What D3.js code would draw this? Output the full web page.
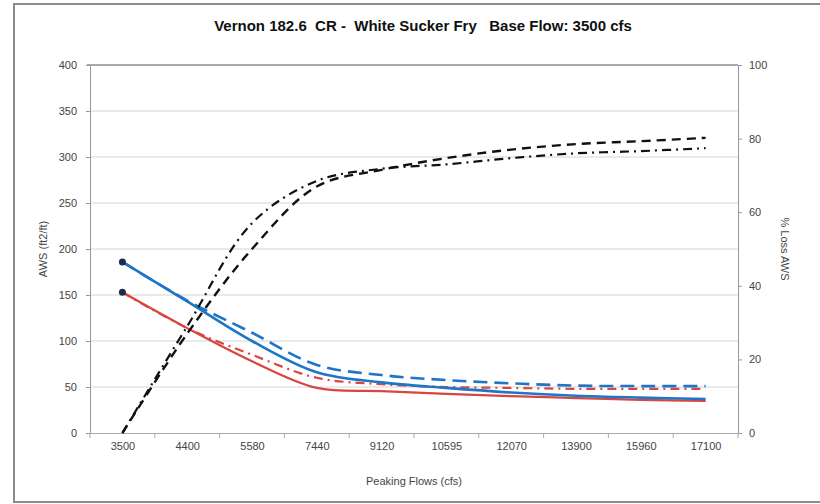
<!DOCTYPE html>
<html><head><meta charset="utf-8">
<script src="https://cdn.jsdelivr.net/npm/d3@7"></script>
<style>body{margin:0;background:#fff}svg{display:block}text{font-family:"Liberation Sans",Arial,sans-serif}</style>
</head><body><svg id="c" width="820" height="504"></svg>
<script>
const categories = ["3500","4400","5580","7440","9120","10595","12070","13900","15960","17100"];
const awsBlueSolid  = [186,143,100,66,55,49,44,40.5,38.5,37];
const awsBlueDashed = [186,144,109,74,63,57.5,54,51.5,51,51];
const awsRedSolid   = [153,114,78,49,45.5,42.5,40,38,36,35];
const awsRedDashDot = [153,114,85,60,53,50,49,48,48,48];
const lossDashed    = [0,27,50,67,71.5,74.7,77,78.5,79.3,80.2];
const lossDashDot   = [0,29,57,68.5,71.8,73,74.7,76,76.6,77.4];
const leftTicks = [0,50,100,150,200,250,300,350,400];
const rightTicks = [0,20,40,60,80,100];

const svg = d3.select("#c");
const L=90,R=738,T=65,B=433;
const x = d3.scalePoint().domain(categories).range([L,R]).padding(0.5);
const yL = d3.scaleLinear().domain([0,400]).range([B,T]);
const yR = d3.scaleLinear().domain([0,100]).range([B,T]);

// outer frame
svg.append("rect").attr("x",14).attr("y",4).attr("width",830).attr("height",498)
  .attr("fill","none").attr("stroke","#8c8c8c").attr("stroke-width",2);

// gridlines
svg.append("g").selectAll("line").data(leftTicks.filter(d=>d>0&&d<400)).join("line")
  .attr("x1",L).attr("x2",R).attr("y1",d=>yL(d)).attr("y2",d=>yL(d))
  .attr("stroke","#d4d4d4").attr("stroke-width",1);
svg.append("line").attr("x1",L-3).attr("x2",R).attr("y1",yL(400)).attr("y2",yL(400))
  .attr("stroke","#555").attr("stroke-width",1.2);

// left axis
const gl = svg.append("g").attr("transform",`translate(${L},0)`)
  .call(d3.axisLeft(yL).tickValues(leftTicks).tickSize(4).tickPadding(9).tickFormat(d3.format("d")));
gl.select(".domain").attr("stroke","#999");
gl.selectAll(".tick line").attr("stroke","#999");
gl.selectAll("text").attr("font-size",11).attr("fill","#444");

// right axis
const gr = svg.append("g").attr("transform",`translate(${R},0)`)
  .call(d3.axisRight(yR).tickValues(rightTicks).tickSize(4).tickPadding(7).tickFormat(d3.format("d")));
gr.select(".domain").attr("stroke","#999");
gr.selectAll(".tick line").attr("stroke","#999");
gr.selectAll("text").attr("font-size",11).attr("fill","#444");

// bottom axis
const gb = svg.append("g").attr("transform",`translate(0,${B})`)
  .call(d3.axisBottom(x).tickSize(0).tickPadding(9));
gb.select(".domain").attr("stroke","#aaa");
gb.selectAll("text").attr("font-size",11).attr("fill","#444");
const step = x.step();
svg.append("g").selectAll("line").data(d3.range(0,categories.length+1)).join("line")
  .attr("x1",i=>L+i*step).attr("x2",i=>L+i*step).attr("y1",B).attr("y2",B+5)
  .attr("stroke","#aaa");

// lines
const curve = d3.curveCatmullRom.alpha(0.5);
const lineL = d3.line().x((d,i)=>x(categories[i])).y(d=>yL(d)).curve(curve);
const lineR = d3.line().x((d,i)=>x(categories[i])).y(d=>yR(d)).curve(curve);
const series = [
  {v:awsRedDashDot, f:lineL, c:"#d9453f", w:2.2, dash:"9,5,2,5"},
  {v:awsBlueDashed, f:lineL, c:"#1f75c6", w:2.6, dash:"14,7"},
  {v:awsRedSolid,   f:lineL, c:"#d9453f", w:2.2, dash:null},
  {v:awsBlueSolid,  f:lineL, c:"#1f75c6", w:2.6, dash:null},
  {v:lossDashed,    f:lineR, c:"#111",    w:2.4, dash:"9,6"},
  {v:lossDashDot,   f:lineR, c:"#111",    w:2.2, dash:"9,5,2,5"}
];
series.forEach(s=>{
  svg.append("path").attr("d",s.f(s.v)).attr("fill","none").attr("stroke",s.c)
    .attr("stroke-width",s.w).attr("stroke-dasharray",s.dash);
});
// start markers
[awsBlueSolid, awsRedSolid].forEach(v=>{
  svg.append("circle").attr("cx",x(categories[0])).attr("cy",yL(v[0])).attr("r",3.5)
    .attr("fill","#1b2a4e");
});

// titles
svg.append("text").attr("x",423).attr("y",31).attr("text-anchor","middle")
  .attr("font-size",15).attr("font-weight","bold").attr("fill","#111")
  .attr("xml:space","preserve")
  .text("Vernon 182.6  CR -  White Sucker Fry   Base Flow: 3500 cfs");
svg.append("text").attr("transform","translate(47,249) rotate(-90)").attr("text-anchor","middle")
  .attr("font-size",11).attr("fill","#444").text("AWS (ft2/ft)");
svg.append("text").attr("transform","translate(781,249) rotate(90)").attr("text-anchor","middle")
  .attr("font-size",11).attr("fill","#444").text("% Loss AWS");
svg.append("text").attr("x",414).attr("y",485).attr("text-anchor","middle")
  .attr("font-size",11).attr("fill","#444").text("Peaking Flows (cfs)");
</script></body></html>
